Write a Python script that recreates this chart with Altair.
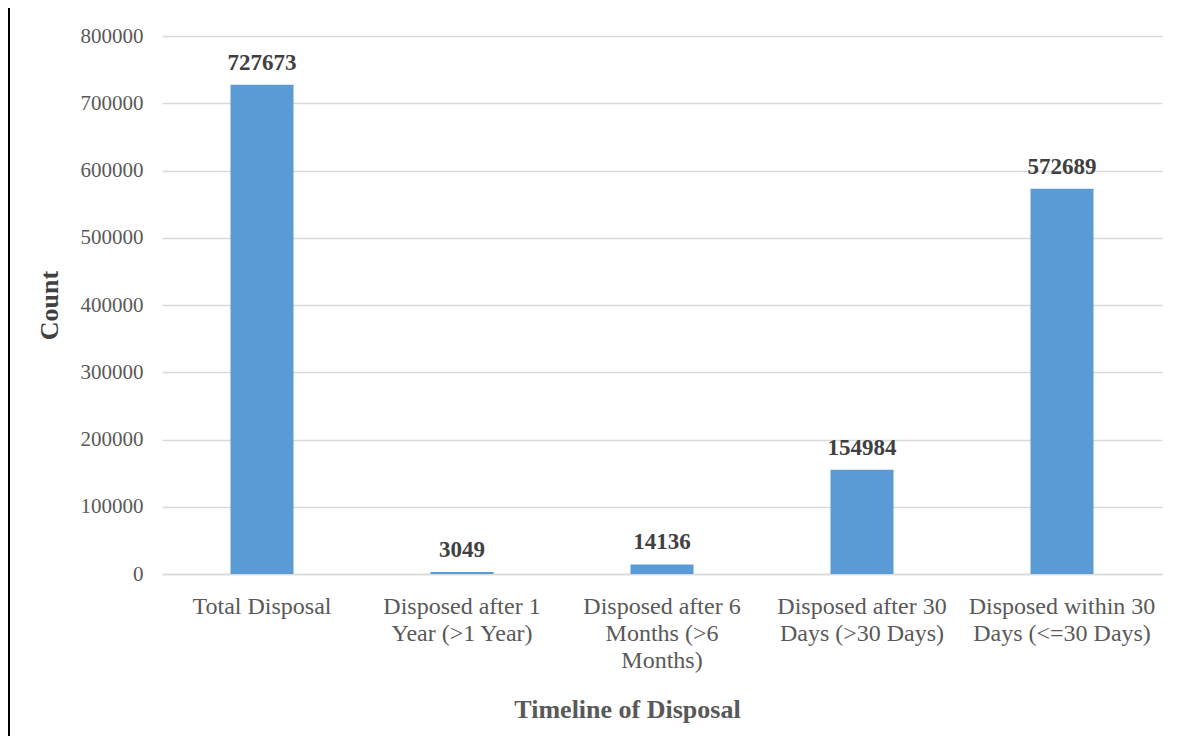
import altair as alt
import pandas as pd

categories = [
    "Total Disposal",
    "Disposed after 1|Year (>1 Year)",
    "Disposed after 6|Months (>6|Months)",
    "Disposed after 30|Days (>30 Days)",
    "Disposed within 30|Days (<=30 Days)",
]
counts = [727673, 3049, 14136, 154984, 572689]
y_ticks = [0, 100000, 200000, 300000, 400000, 500000, 600000, 700000, 800000]

df = pd.DataFrame({"category": categories, "count": counts})
FONT = "Liberation Serif"

base = alt.Chart(df).encode(
    x=alt.X(
        "category:N",
        sort=categories,
        scale=alt.Scale(paddingInner=0.685, paddingOuter=0.3425),
        axis=alt.Axis(
            title="Timeline of Disposal",
            labelExpr="split(datum.label, '|')",
            labelAngle=0,
            labelFont=FONT,
            labelFontSize=24,
            labelColor="#595959",
            labelLineHeight=27,
            labelPadding=20,
            labelLimit=400,
            ticks=False,
            domainColor="#D9D9D9",
            domainWidth=1.3,
            titleFont=FONT,
            titleFontSize=26,
            titleFontWeight="bold",
            titleColor="#595959",
            titleX=465,
            titleY=143,
            titleBaseline="alphabetic",
        ),
    ),
    y=alt.Y(
        "count:Q",
        scale=alt.Scale(domain=[0, 800000], nice=False),
        axis=alt.Axis(
            title="Count",
            values=y_ticks,
            format="d",
            labelFont=FONT,
            labelFontSize=21,
            labelColor="#595959",
            labelPadding=19,
            ticks=False,
            domain=False,
            gridColor="#D9D9D9",
            gridWidth=1.3,
            titleFont=FONT,
            titleFontSize=26,
            titleFontWeight="bold",
            titleColor="#404040",
            titleAngle=-90,
            titleX=-105,
            titleY=269,
            titleAlign="center",
            titleBaseline="alphabetic",
        ),
    ),
)

bars = base.mark_bar(color="#5B9BD5")
labels = base.mark_text(
    baseline="alphabetic",
    dy=-15,
    font=FONT,
    fontSize=23,
    fontWeight="bold",
    color="#404040",
).encode(text=alt.Text("count:Q", format="d"))

edge = alt.Chart(pd.DataFrame({"a": [0]})).mark_rule(color="black", strokeWidth=2).encode(
    x=alt.value(-153), y=alt.value(-29), y2=alt.value(700)
)

chart = alt.layer(bars, labels, edge).properties(
    width=1000,
    height=538,
    autosize=alt.AutoSizeParams(type="none"),
    padding={"left": 154, "top": 28, "right": 14, "bottom": 162},
    background="white",
).configure_view(stroke=None)

chart.save("out.html", embed_options={"renderer": "svg", "actions": False})
